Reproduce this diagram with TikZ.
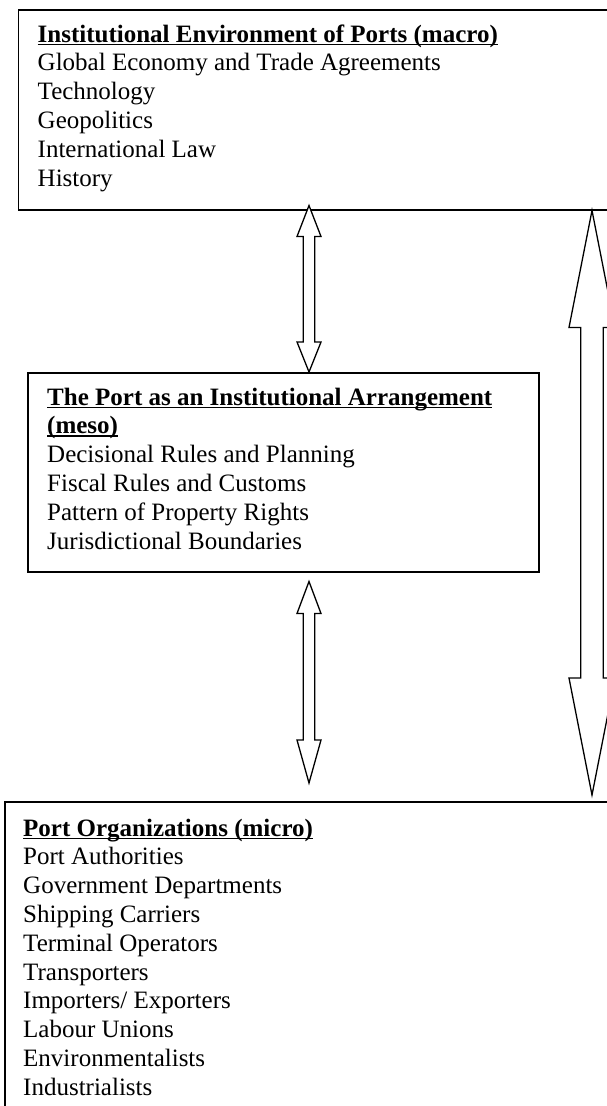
\documentclass[tikz,border=0pt]{standalone}
\usepackage{fontspec}
\setmainfont{Liberation Serif}
\usetikzlibrary{calc}

% bold heading with a thick rule underneath
\newcommand\ulbar[1]{\setbox0=\hbox{\bfseries #1}\rlap{\rule[-3.2pt]{\wd0}{1.7pt}}\box0}

% double-headed block arrow between two named coordinates
% #1 top tip, #2 bottom tip, #3 top head length, #4 bottom head length,
% #5 half shaft width, #6 half head width
\newcommand\dblblock[6]{%
  \draw[blockarrow] let \p1=(#1), \p2=(#2) in
    (\p1) -- (\x1+#6,\y1-#3) -- (\x1+#5,\y1-#3) -- (\x1+#5,\y2+#4)
    -- (\x1+#6,\y2+#4) -- (\p2) -- (\x1-#6,\y2+#4) -- (\x1-#5,\y2+#4)
    -- (\x1-#5,\y1-#3) -- (\x1-#6,\y1-#3) -- cycle;}

\tikzset{
  levelbox/.style={draw, line width=1.5pt, anchor=north west, inner sep=0pt},
  blocktext/.style={anchor=base west, inner sep=0pt,
    font=\fontsize{25}{28.8}\selectfont},
  blockarrow/.style={draw, line width=1.3pt, fill=white, line join=miter},
}

\begin{document}
\begin{tikzpicture}[x=1pt, y=-1pt]
  \useasboundingbox (0,0) rectangle (607,1106);
  \clip (0,0) rectangle (607,1106);

  % the three levels
  \node[levelbox, minimum width=610pt, minimum height=200pt] (macro) at (17.5,9) {};
  \node[levelbox, minimum width=511pt, minimum height=199pt] (meso) at (27,372) {};
  \node[levelbox, minimum width=620pt, minimum height=330pt] (micro) at (4,801) {};

  \node[blocktext] (macrotext) at (37.5,42) {\begin{tabular}[t]{@{}l@{}}
    \ulbar{Institutional Environment of Ports (macro)}\\
    Global Economy and Trade Agreements\\
    Technology\\
    Geopolitics\\
    International Law\\
    History
  \end{tabular}};

  \node[blocktext] (mesotext) at (47,405) {\begin{tabular}[t]{@{}l@{}}
    \ulbar{The Port as an Institutional Arrangement}\\
    \ulbar{(meso)}\\
    Decisional Rules and Planning\\
    Fiscal Rules and Customs\\
    Pattern of Property Rights\\
    Jurisdictional Boundaries
  \end{tabular}};

  \node[blocktext] (microtext) at (23,836) {\begin{tabular}[t]{@{}l@{}}
    \ulbar{Port Organizations (micro)}\\
    Port Authorities\\
    Government Departments\\
    Shipping Carriers\\
    Terminal Operators\\
    Transporters\\
    Importers/ Exporters\\
    Labour Unions\\
    Environmentalists\\
    Industrialists
  \end{tabular}};

  % arrow end points
  \coordinate (macroA) at ($(macro.south west)+(291.5,-5)$);
  \coordinate (mesoA)  at (macroA |- meso.north);
  \coordinate (mesoB)  at ($(macroA |- meso.south)+(0,9)$);
  \coordinate (microA) at ($(macroA |- micro.north)+(0,-18)$);
  \coordinate (macroB) at ($(macro.south west)+(574.5,0)$);
  \coordinate (microB) at ($(macroB |- micro.north)+(0,-6)$);

  \dblblock{macroA}{mesoA}{31pt}{30pt}{5.8pt}{12pt}
  \dblblock{mesoB}{microA}{32pt}{43pt}{5.8pt}{12pt}
  \dblblock{macroB}{microB}{117pt}{117pt}{11.3pt}{23pt}
\end{tikzpicture}
\end{document}
